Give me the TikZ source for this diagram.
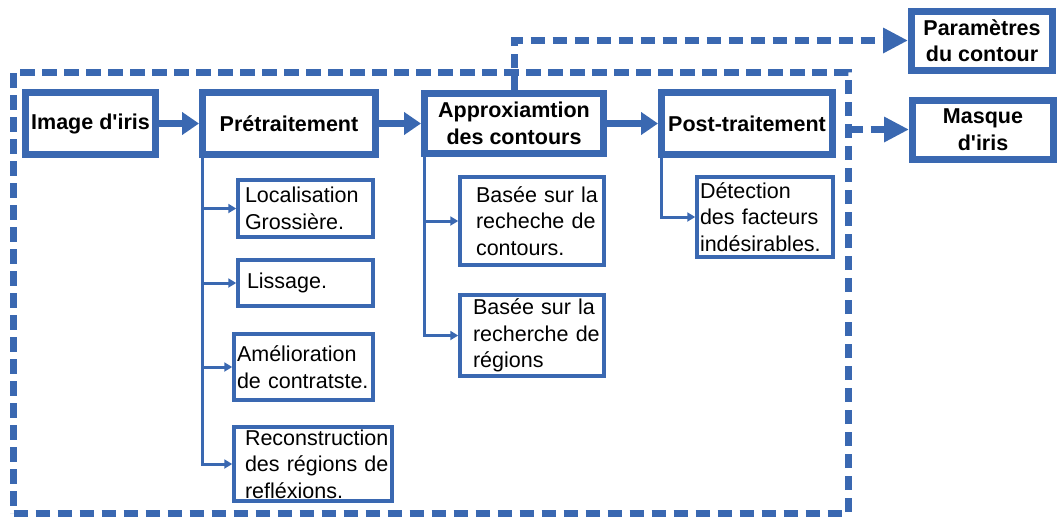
\documentclass[tikz,border=0pt]{standalone}
\usepackage{fontspec}
\setmainfont{Liberation Sans}[Ligatures=TeXOff]
\usetikzlibrary{arrows.meta}
\definecolor{cblue}{RGB}{58,104,177}
\begin{document}
\begin{tikzpicture}[x=1pt,y=-1pt,
  mainbox/.style={draw=cblue, line width=7pt, font=\fontsize{21.5}{26.5}\selectfont\bfseries, align=center, inner sep=0pt},
  subbox/.style={draw=cblue, line width=3.5pt, font=\fontsize{21.5}{26.5}\selectfont, align=left, inner sep=0pt},
  mainarrow/.style={draw=cblue, line width=7pt, -{Triangle[length=17pt,width=22pt]}},
  dasharrow/.style={draw=cblue, line width=7pt, dash pattern=on 14pt off 8pt, -{Triangle[length=25pt,width=24pt]}},
  brancharrow/.style={draw=cblue, line width=3pt, -{Triangle[length=8pt,width=9pt]}},
  framebox/.style={draw=cblue, line width=7pt, dash pattern=on 14.5pt off 7.5pt, inner sep=0pt}]
\useasboundingbox (0,0) rectangle (1057,520);

% dashed frame
\node[framebox, minimum width=835pt, minimum height=441pt] (frame) at (431,292.5) {};

% main boxes
\node[mainbox, minimum width=130pt, minimum height=62pt] (img) at (90.5,123.5) {Image d'iris};
\node[mainbox, minimum width=173pt, minimum height=62pt] (pre) at (289,123.5) {Prétraitement};
\node[mainbox, minimum width=179pt, minimum height=60pt] (approx) at (514,123.5) {Approxiamtion\\des contours};
\node[mainbox, minimum width=171pt, minimum height=62pt] (post) at (747,123.5) {Post-traitement};
\node[mainbox, minimum width=141pt, minimum height=59pt] (params) at (982,40.5) {Paramètres\\du contour};
\node[mainbox, minimum width=141pt, minimum height=59pt] (masque) at (983,129.5) {Masque\\d'iris};

% sub boxes
\node[subbox, minimum width=135pt, minimum height=57pt, text width=121pt] (loc) at (305.5,208.5) {Localisation\\Grossière.};
\node[subbox, minimum width=135pt, minimum height=46pt, text width=117pt] (liss) at (305.5,283) {Lissage.};
\node[subbox, minimum width=139pt, minimum height=66pt, text width=133pt] (amel) at (303.5,367) {Amélioration\\\mbox{de contratste.}};
\node[subbox, minimum width=158pt, minimum height=74pt, text width=136pt] (recon) at (313,464) {\mbox{Reconstruction}\\\mbox{des régions de}\\\mbox{refléxions.}};
\node[subbox, minimum width=144pt, minimum height=88pt, text width=112pt] (basea) at (532,221) {\mbox{Basée sur la}\\\mbox{recheche de}\\\mbox{contours.}};
\node[subbox, minimum width=144pt, minimum height=81pt, text width=118pt] (baseb) at (532,335.5) {\mbox{Basée sur la}\\\mbox{recherche de}\\\mbox{régions}};
\node[subbox, minimum width=136pt, minimum height=80pt, text width=130pt] (detect) at (765,217) {Détection\\\mbox{des facteurs}\\\mbox{indésirables.}};

% main arrows
\draw[mainarrow] (img.east) -- (pre.west);
\draw[mainarrow] (pre.east) -- (approx.west);
\draw[mainarrow] (approx.east) -- (post.west);

% dashed outputs
\draw[dasharrow] (approx.north) |- (params.west);
\coordinate (fe) at ([xshift=-3.5pt]frame.east |- masque.west);
\draw[dasharrow] (fe) -- (masque.west);

% branches
\coordinate (pb) at ([xshift=3.5pt]pre.south west);
\coordinate (ab) at ([xshift=3.5pt]approx.south west);
\coordinate (qb) at ([xshift=3.5pt]post.south west);
\draw[brancharrow] (pb) |- (loc.west);
\draw[brancharrow] (pb) |- (liss.west);
\draw[brancharrow] (pb) |- (amel.west);
\draw[brancharrow] (pb) |- (recon.west);
\draw[brancharrow] (ab) |- (basea.west);
\draw[brancharrow] (ab) |- (baseb.west);
\draw[brancharrow] (qb) |- (detect.west);
\end{tikzpicture}
\end{document}
